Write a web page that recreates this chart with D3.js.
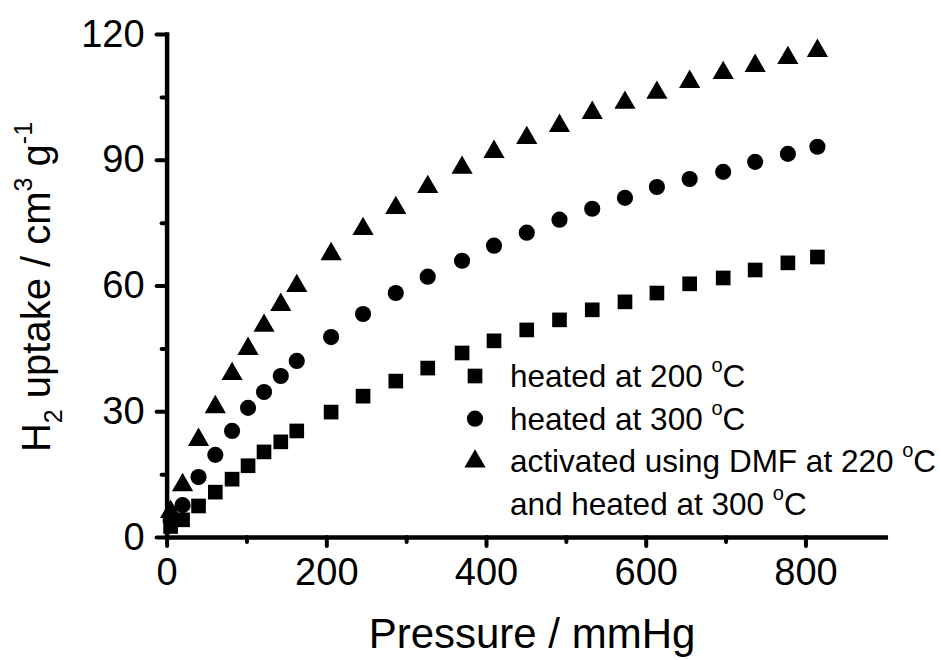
<!DOCTYPE html>
<html>
<head>
<meta charset="utf-8">
<script src="https://cdn.jsdelivr.net/npm/d3@7"></script>
<style>
  body { margin: 0; background: #fff; }
  svg { display: block; }
  text { font-family: "Liberation Sans", Arial, sans-serif; fill: #000; }
</style>
</head>
<body>
<svg id="chart" width="941" height="660"></svg>
<script>
'use strict';

// pressure points (mmHg), shared by the three runs
const pressure = [5, 20, 40, 61, 82, 102, 122, 143, 163, 206, 246, 287, 327, 370, 410, 451, 492, 533, 574, 614, 655, 697, 737, 778, 815];

// H2 uptake, cm3 g-1
const heated200 = [2.5, 4.1, 7.4, 10.7, 13.8, 17.0, 20.3, 22.7, 25.3, 29.8, 33.6, 37.2, 40.3, 43.9, 46.8, 49.4, 51.8, 54.2, 56.1, 58.2, 60.4, 61.8, 63.7, 65.4, 66.8];
const heated300 = [4.0, 7.6, 14.3, 19.6, 25.3, 30.8, 34.6, 38.4, 42.0, 47.7, 53.2, 58.2, 62.1, 65.9, 69.5, 72.6, 75.7, 78.3, 80.9, 83.5, 85.4, 87.1, 89.5, 91.4, 93.1];
const dmf220 = [6.0, 12.4, 23.2, 31.0, 38.9, 44.9, 50.4, 55.4, 59.9, 67.5, 73.5, 78.5, 83.5, 88.1, 91.9, 95.2, 98.1, 101.2, 103.6, 106.0, 108.6, 110.7, 112.4, 114.3, 116.0];

const xTicks = [0, 200, 400, 600, 800];
const xMinor = [100, 300, 500, 700];
const yTicks = [0, 30, 60, 90, 120];
const yMinor = [15, 45, 75, 105];

const seriesNames = ["heated at 200", "heated at 300", "activated using DMF at 220"];

let svg = d3.select("#chart");
svg.append("rect").attr("width", 941).attr("height", 660).attr("fill", "#fff");

let x = d3.scaleLinear().domain([0, 900]).range([166.6, 885.3]);
let y = d3.scaleLinear().domain([0, 120]).range([537, 34]);

// symbol generators
const symSquare = d3.symbol().type(d3.symbolSquare).size(215);
const symCircle = d3.symbol().type(d3.symbolCircle).size(205);
const symTriangle = d3.symbol().type(d3.symbolTriangle).size(195);

let series = [
  {values: heated200, sym: symSquare},
  {values: heated300, sym: symCircle},
  {values: dmf220, sym: symTriangle}
];

// ---- axes
let styleAxis = function(g, fontSize) {
  g.select(".domain").attr("stroke-width", 4.5).attr("stroke-linecap", "square");
  g.selectAll(".tick line").attr("stroke-width", 4).attr("stroke-linecap", "round");
  g.selectAll(".tick text").attr("font-size", fontSize).attr("font-family", "Liberation Sans, Arial, sans-serif");
};

let xAxis = svg.append("g").attr("transform", "translate(0," + y(0) + ")")
  .call(d3.axisBottom(x).tickValues(xTicks).tickSize(9).tickSizeOuter(0).tickPadding(12).tickFormat(d3.format("d")));
styleAxis(xAxis, 38);
svg.append("g").attr("transform", "translate(0," + y(0) + ")")
  .call(d3.axisBottom(x).tickValues(xMinor).tickSize(5).tickFormat(""))
  .call(g => g.select(".domain").remove())
  .call(g => g.selectAll(".tick line").attr("stroke-width", 4).attr("stroke-linecap", "round"));

let yAxis = svg.append("g").attr("transform", "translate(" + x(0) + ",0)")
  .call(d3.axisLeft(y).tickValues(yTicks).tickSize(10).tickSizeOuter(0).tickPadding(12).tickFormat(d3.format("d")));
styleAxis(yAxis, 38);
svg.append("g").attr("transform", "translate(" + x(0) + ",0)")
  .call(d3.axisLeft(y).tickValues(yMinor).tickSize(5).tickFormat(""))
  .call(g => g.select(".domain").remove())
  .call(g => g.selectAll(".tick line").attr("stroke-width", 4).attr("stroke-linecap", "round"));

// ---- points
series.forEach(function(s) {
  svg.append("g").selectAll("path")
    .data(pressure.map((p, i) => [p, s.values[i]]))
    .enter().append("path")
    .attr("d", s.sym)
    .attr("fill", "#000")
    .attr("transform", d => "translate(" + x(d[0]) + "," + y(d[1]) + ")");
});

// ---- legend
const LEG_X = 475, TXT_X = 510, LINE_H = 42.7, LEG_TOP = 376;
let legend = svg.append("g");
let addDegreeLine = function(yPos, label) {
  let t = legend.append("text").attr("x", TXT_X).attr("y", yPos + 11).attr("font-size", 31.5);
  t.append("tspan").text(label + " ");
  t.append("tspan").attr("font-size", 20).attr("dy", -15).text("o");
  t.append("tspan").attr("dy", 15).text("C");
};
series.forEach(function(s, i) {
  let yy = LEG_TOP + i * LINE_H;
  legend.append("path").attr("d", s.sym).attr("fill", "#000")
    .attr("transform", "translate(" + LEG_X + "," + yy + ")");
  addDegreeLine(yy, seriesNames[i]);
});
addDegreeLine(LEG_TOP + 3 * LINE_H, "and heated at 300");

// ---- axis titles
svg.append("text").attr("x", 532).attr("y", 648).attr("text-anchor", "middle")
  .attr("font-size", 42).text("Pressure / mmHg");

let yt = svg.append("text")
  .attr("transform", "translate(50," + 287 + ") rotate(-90)")
  .attr("text-anchor", "middle").attr("font-size", 40);
yt.append("tspan").text("H");
yt.append("tspan").attr("font-size", 25).attr("dy", 12).text("2");
yt.append("tspan").attr("dy", -12).text(" uptake / cm");
yt.append("tspan").attr("font-size", 25).attr("dy", -18).text("3");
yt.append("tspan").attr("dy", 18).text(" g");
yt.append("tspan").attr("font-size", 25).attr("dy", -18).text("-1");
</script>
</body>
</html>
